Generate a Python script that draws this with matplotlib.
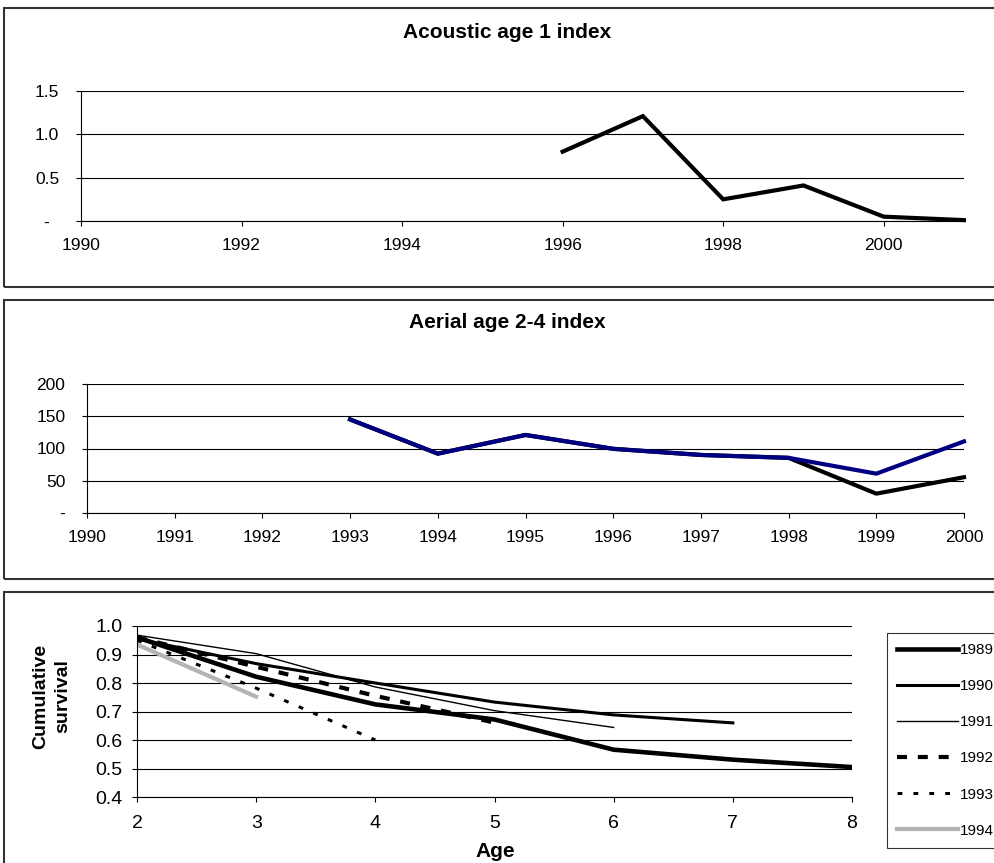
"""Three stacked panels: acoustic index, aerial index, cumulative survival."""

import matplotlib

matplotlib.use("Agg")
import matplotlib.pyplot as plt  # noqa: E402
from matplotlib.patches import Rectangle  # noqa: E402

plt.rcParams["font.family"] = ["Liberation Sans", "DejaVu Sans"]

# --- data -------------------------------------------------------------------
acoustic_years = [1996, 1997, 1998, 1999, 2000, 2001]
acoustic_index = [0.80, 1.21, 0.25, 0.41, 0.05, 0.01]
acoustic_xticks = [1990, 1992, 1994, 1996, 1998, 2000]
acoustic_yticks = [0.0, 0.5, 1.0, 1.5]
acoustic_ylabels = ["-  ", "0.5", "1.0", "1.5"]

aerial_years = [1993, 1994, 1995, 1996, 1997, 1998, 1999, 2000]
aerial_black = [145, 92, 121, 99.5, 90, 85.5, 30, 55.5]
aerial_blue = [145, 92, 121, 99.5, 90, 85.5, 61, 111]
aerial_xticks = list(range(1990, 2001))
aerial_yticks = [0, 50, 100, 150, 200]
aerial_ylabels = ["-", "50", "100", "150", "200"]

ages = [2, 3, 4, 5, 6, 7, 8]
surv_1989 = [0.96, 0.822, 0.725, 0.672, 0.566, 0.531, 0.505]
surv_1990 = [0.955, 0.868, 0.80, 0.733, 0.688, 0.66]
surv_1991 = [0.968, 0.903, 0.786, 0.703, 0.644]
surv_1992 = [0.96, 0.857, 0.755, 0.661]
surv_1993 = [0.95, 0.782, 0.60]
surv_1994 = [0.935, 0.752]
surv_yticks = [0.4, 0.5, 0.6, 0.7, 0.8, 0.9, 1.0]

W, H = 995, 863


def fx(px):
    return px / W


def fy(py):
    return 1 - py / H


def axes_px(fig, left, top, right, bottom):
    return fig.add_axes([fx(left), fy(bottom), (right - left) / W, (bottom - top) / H])


def style_axes(ax, fontsize, xpad, ypad):
    for side in ("top", "right"):
        ax.spines[side].set_visible(False)
    for side in ("left", "bottom"):
        ax.spines[side].set_color("black")
        ax.spines[side].set_linewidth(0.8)
    ax.yaxis.grid(True, color="black", linewidth=0.8)
    ax.set_axisbelow(True)
    ax.tick_params(axis="both", direction="out", length=3.6, width=0.8,
                   labelsize=fontsize)
    ax.tick_params(axis="x", pad=xpad)
    ax.tick_params(axis="y", pad=ypad)


def panel_box(fig, top, bottom):
    fig.patches.append(Rectangle((fx(4), fy(bottom)), 1.2, (bottom - top) / H,
                                 transform=fig.transFigure, fill=False,
                                 edgecolor="#333333", linewidth=1.5))


fig = plt.figure(figsize=(W / 100, H / 100), dpi=100)

# --- panel 1 -----------------------------------------------------------------
panel_box(fig, 8, 287)
fig.text(fx(507), fy(33), "Acoustic age 1 index", ha="center", va="center",
         fontsize=15, fontweight="bold")
ax1 = axes_px(fig, 81, 91, 964, 221)
ax1.plot(acoustic_years, acoustic_index, color="black", linewidth=3,
         solid_joinstyle="miter", clip_on=False)
ax1.set_xlim(1990, 2001)
ax1.set_ylim(0, 1.5)
ax1.set_xticks(acoustic_xticks)
ax1.set_yticks(acoustic_yticks, acoustic_ylabels)
style_axes(ax1, 12.5, 9, 12)

# --- panel 2 -----------------------------------------------------------------
panel_box(fig, 300, 579)
fig.text(fx(507), fy(323), "Aerial age 2-4 index", ha="center", va="center",
         fontsize=15, fontweight="bold")
ax2 = axes_px(fig, 87, 384, 964, 513)
ax2.plot(aerial_years, aerial_black, color="black", linewidth=3, clip_on=False)
ax2.plot(aerial_years, aerial_blue, color="#000080", linewidth=3, clip_on=False)
ax2.set_xlim(1990, 2000)
ax2.set_ylim(0, 200)
ax2.set_xticks(aerial_xticks)
ax2.set_yticks(aerial_yticks, aerial_ylabels)
style_axes(ax2, 12.5, 9, 12)

# --- panel 3 -----------------------------------------------------------------
panel_box(fig, 592, 900)
ax3 = axes_px(fig, 137, 626, 852, 797)
ax3.plot(ages[:len(surv_1989)], surv_1989, color="black", linewidth=3.3, label="1989")
ax3.plot(ages[:len(surv_1990)], surv_1990, color="black", linewidth=2.2, label="1990")
ax3.plot(ages[:len(surv_1991)], surv_1991, color="black", linewidth=1.0, label="1991")
ax3.plot(ages[:len(surv_1992)], surv_1992, color="black", linewidth=3.0,
         dashes=(2.4, 2.6), dash_capstyle="butt", label="1992")
ax3.plot(ages[:len(surv_1993)], surv_1993, color="black", linewidth=2.2,
         dashes=(1.6, 3.6), dash_capstyle="butt", label="1993")
ax3.plot(ages[:len(surv_1994)], surv_1994, color="#b4b4b4", linewidth=3.0, label="1994")
ax3.set_xlim(2, 8)
ax3.set_ylim(0.4, 1.0)
ax3.set_xticks(ages)
ax3.set_yticks(surv_yticks, [f"{v:.1f}" for v in surv_yticks])
style_axes(ax3, 14, 9, 7)

fig.text(fx(52), fy(696), "Cumulative\nsurvival", rotation=90, ha="center",
         va="center", fontsize=14, fontweight="bold", linespacing=1.4)
fig.text(fx(495), fy(851), "Age", ha="center", va="center", fontsize=15,
         fontweight="bold")

leg = ax3.legend(loc="upper left", bbox_to_anchor=(fx(887), fy(633)),
                 bbox_transform=fig.transFigure, borderaxespad=0, fontsize=11,
                 frameon=True, fancybox=False, edgecolor="black",
                 handlelength=4.0, handletextpad=0.15, labelspacing=1.45,
                 borderpad=0.65)
leg.get_frame().set_linewidth(0.8)

fig.savefig("out.png", dpi=100)
